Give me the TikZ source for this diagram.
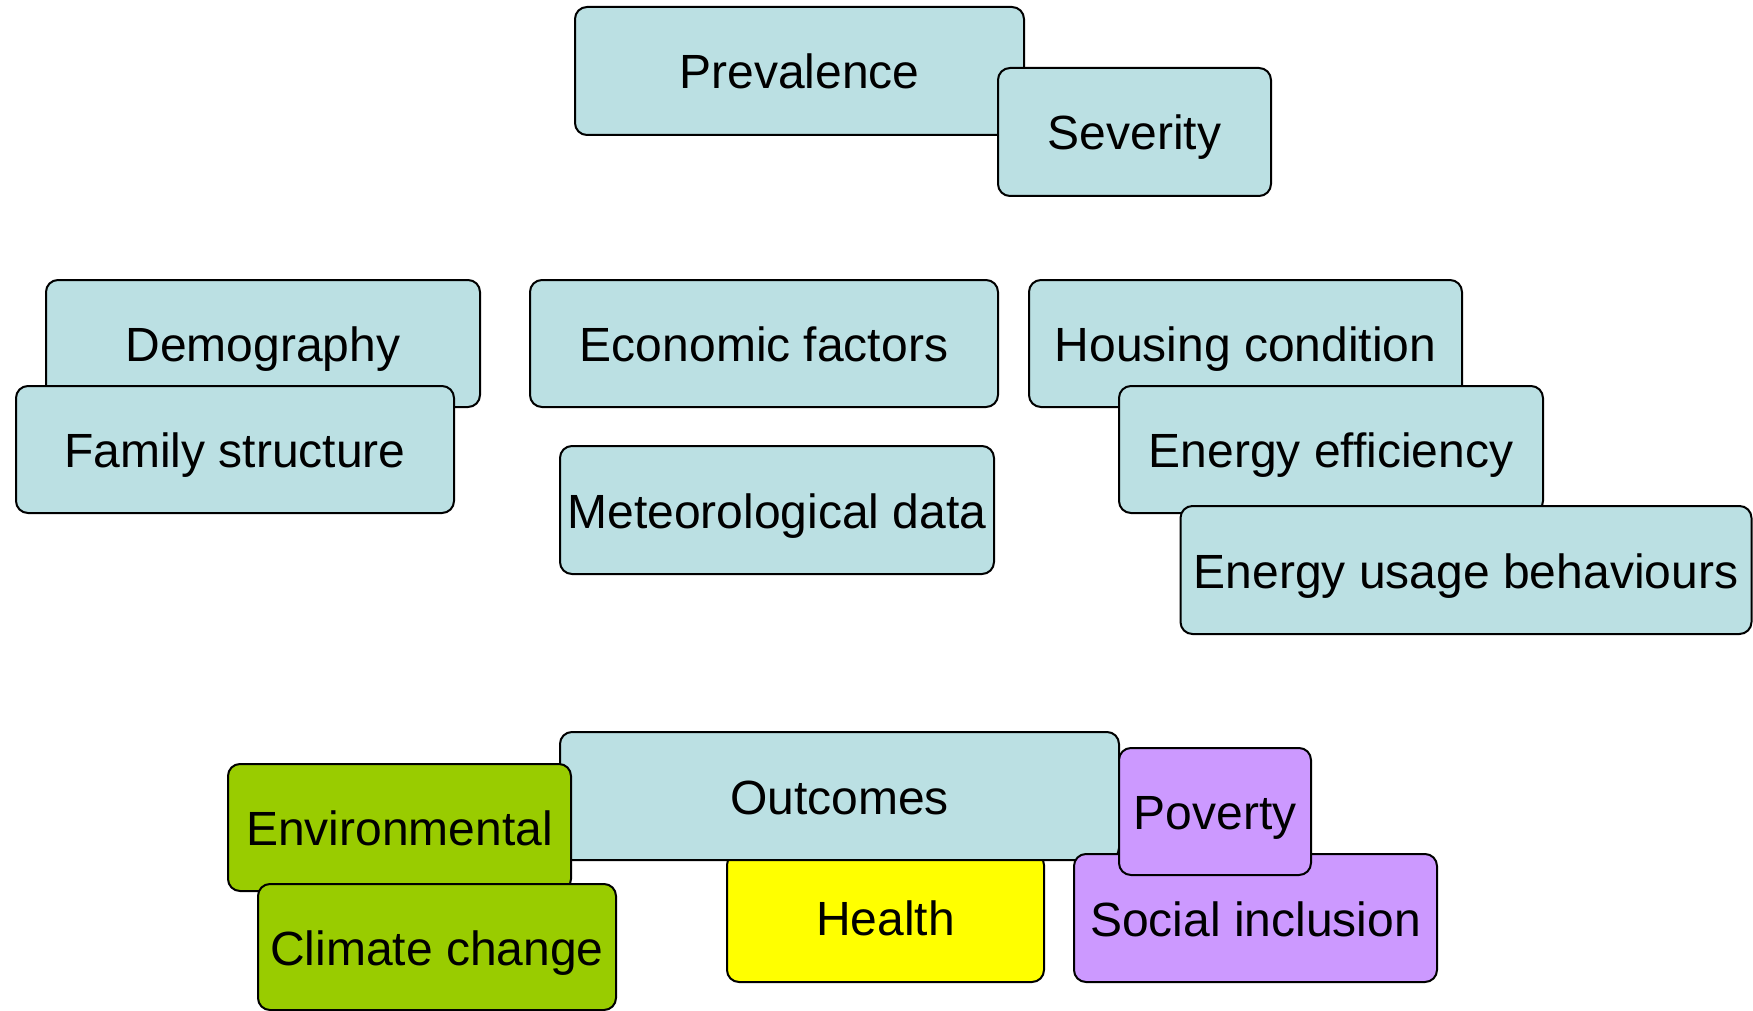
\documentclass[tikz,border=0pt]{standalone}
\usepackage{fontspec}
\setmainfont{Liberation Sans}
\usepackage{tikz}
\usetikzlibrary{positioning}
\definecolor{paleteal}{RGB}{187,224,227}
\definecolor{leafgreen}{RGB}{153,204,0}
\definecolor{lemon}{RGB}{255,255,0}
\definecolor{lilac}{RGB}{204,153,255}

\begin{document}
\begin{tikzpicture}
			[x=1pt,y=-1pt,font=\fontsize{48}{58}\selectfont,
			box/.style={shape=rectangle,draw=black,line width=2pt,rounded corners=12pt,
				fill=paleteal,inner sep=0pt,text height=45pt,text depth=9pt},
			green/.style={box,fill=leafgreen},
			health/.style={box,fill=lemon},
			social/.style={box,fill=lilac}]
			\useasboundingbox (0,0) rectangle (1753,1011);

			% top
			\node (prev) [box,minimum width=449,minimum height=128] at (799.5,71) {Prevalence};
			\node (sev) [box,minimum width=273,minimum height=128] at (1134.5,132) {Severity};

			% factors
			\node (demo) [box,minimum width=434,minimum height=127] at (263,343.5) {Demography};
			\node (fam) [box,minimum width=438,minimum height=127] at (235,449.5) {Family structure};
			\node (econ) [box,minimum width=468,minimum height=127] at (764,343.5) {Economic factors};
			\node (met) [box,minimum width=434,minimum height=128] at (777,510) {Meteorological data};
			\node (hous) [box,minimum width=433,minimum height=127] at (1245.5,343.5) {Housing condition};
			\node (eff) [box,minimum width=424,minimum height=127] at (1331,449.5) {Energy efficiency};
			\node (usage) [box,minimum width=571,minimum height=128] at (1466,570) {Energy usage behaviours};

			% outcomes
			\node (hlth) [health,minimum width=317,minimum height=129] at (885.5,917.5) {Health};
			\node (out) [box,minimum width=559,minimum height=128] at (839.5,796) {Outcomes};
			\node (env) [green,minimum width=343,minimum height=127] at (399.5,827.5) {Environmental};
			\node (clim) [green,minimum width=358,minimum height=126] at (437,947) {Climate change};
			\node (soc) [social,minimum width=363,minimum height=128] at (1255.5,918) {Social inclusion};
			\node (pov) [social,minimum width=192,minimum height=127] at (1215,811.5) {Poverty};
			\end{tikzpicture}
\end{document}
